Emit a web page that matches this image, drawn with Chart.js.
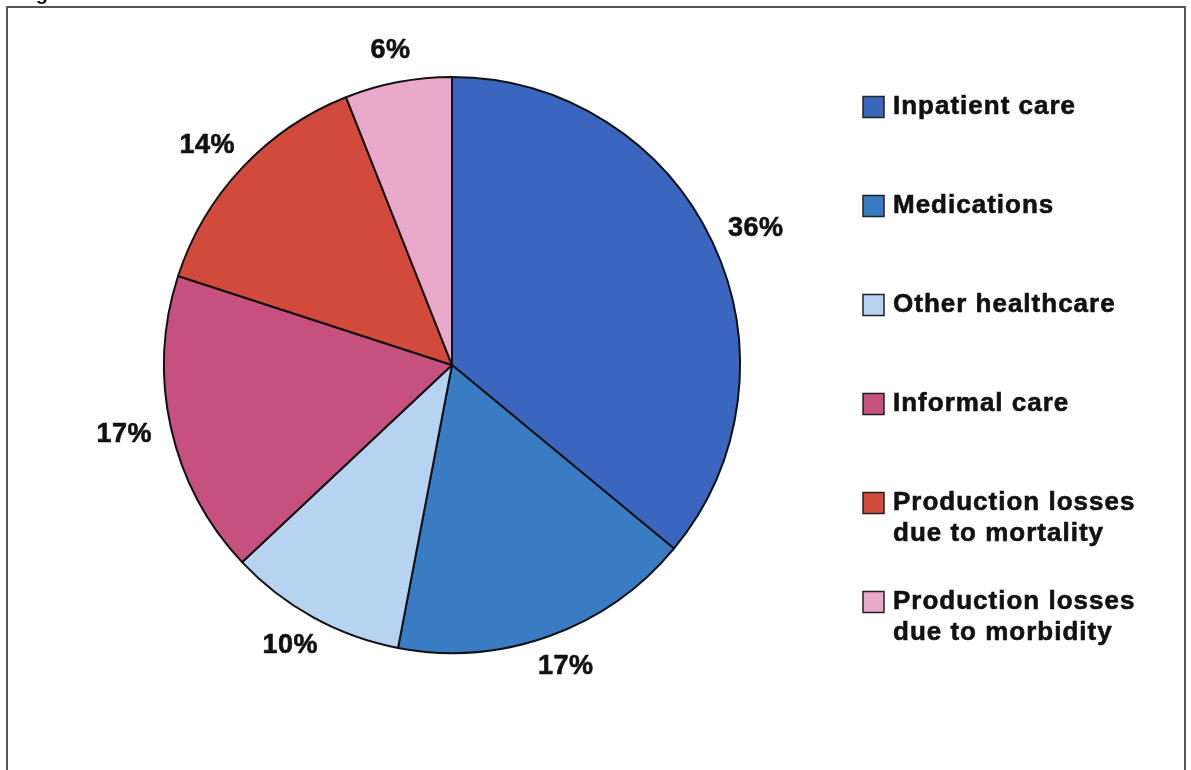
<!DOCTYPE html>
<html>
<head>
<meta charset="utf-8">
<script src="https://cdn.jsdelivr.net/npm/chart.js@4/dist/chart.umd.min.js"></script>
<style>
  html, body { margin: 0; padding: 0; background: #ffffff; }
  #wrap { width: 1191px; height: 770px; }
</style>
</head>
<body>
<div id="wrap"><canvas id="c" width="1191" height="770"></canvas></div>
<script>
// Cost categories, clockwise from 12 o'clock
const categories = [
  ['Inpatient care'],
  ['Medications'],
  ['Other healthcare'],
  ['Informal care'],
  ['Production losses', 'due to mortality'],
  ['Production losses', 'due to morbidity']
];
// Share of total cost (%)
const shares = [36, 17, 10, 17, 14, 6];
const sliceColors = ['#3A66C0', '#3A7CC4', '#B6D4F2', '#C6507E', '#D24A3C', '#EAA8CA'];

const FONT = '"Liberation Sans", Arial, sans-serif';

// Heavy text: fill plus a thin stroke of the same colour
function heavyText(ctx, txt, x, y) {
  ctx.fillText(txt, x, y);
  ctx.strokeText(txt, x, y);
}

// Outer frame plus the clipped caption line above it
const framePlugin = {
  id: 'frame',
  beforeDraw(chart) {
    const ctx = chart.ctx;
    ctx.save();
    ctx.fillStyle = '#ffffff';
    ctx.fillRect(0, 0, chart.width, chart.height);
    ctx.restore();
  },
  afterDraw(chart) {
    const ctx = chart.ctx;
    ctx.save();
    ctx.strokeStyle = '#555555';
    ctx.lineWidth = 2;
    ctx.beginPath();
    ctx.moveTo(7, chart.height);
    ctx.lineTo(7, 7);
    ctx.lineTo(1185, 7);
    ctx.lineTo(1185, chart.height);
    ctx.stroke();
    ctx.fillStyle = '#111111';
    ctx.font = 'bold 20px ' + FONT;
    ctx.textBaseline = 'alphabetic';
    ctx.fillText('Figure', 18, 0);
    ctx.restore();
  }
};

// Percentage labels just outside each slice; the label box is pushed
// out along the slice's mid angle so its inner edge clears the rim
const pctLabels = {
  id: 'pctLabels',
  afterDatasetsDraw(chart) {
    const ctx = chart.ctx;
    const meta = chart.getDatasetMeta(0);
    const gap = 20;
    ctx.save();
    ctx.fillStyle = '#111111';
    ctx.strokeStyle = '#111111';
    ctx.lineWidth = 0.6;
    ctx.font = 'bold 27px ' + FONT;
    ctx.letterSpacing = '0.5px';
    ctx.textAlign = 'center';
    ctx.textBaseline = 'middle';
    meta.data.forEach((arc, i) => {
      const p = arc.getProps(['x', 'y', 'startAngle', 'endAngle', 'outerRadius'], true);
      const mid = (p.startAngle + p.endAngle) / 2;
      const txt = shares[i] + '%';
      const hw = ctx.measureText(txt).width / 2;
      const hh = 12;
      const r = p.outerRadius + gap;
      const cx = p.x + Math.cos(mid) * r + Math.cos(mid) * hw;
      const cy = p.y + Math.sin(mid) * r + Math.sin(mid) * hh;
      heavyText(ctx, txt, cx, cy);
    });
    ctx.restore();
  }
};

// Legend on the right, one slot per category
const sideLegend = {
  id: 'sideLegend',
  afterDraw(chart) {
    const ctx = chart.ctx;
    const x0 = 863, box = 21, textX = 893, firstY = 107, slot = 99, lineH = 31;
    ctx.save();
    ctx.font = 'bold 26px ' + FONT;
    ctx.letterSpacing = '1px';
    ctx.textBaseline = 'middle';
    ctx.textAlign = 'left';
    categories.forEach((lines, i) => {
      const y = firstY + i * slot;
      ctx.fillStyle = sliceColors[i];
      ctx.fillRect(x0, y - box / 2, box, box);
      ctx.strokeStyle = '#222222';
      ctx.lineWidth = 1.5;
      ctx.strokeRect(x0, y - box / 2, box, box);
      ctx.fillStyle = '#111111';
      ctx.strokeStyle = '#111111';
      ctx.lineWidth = 0.6;
      lines.forEach((t, j) => heavyText(ctx, t, textX, y + j * lineH));
    });
    ctx.restore();
  }
};

new Chart(document.getElementById('c'), {
  type: 'pie',
  data: {
    labels: categories.map(l => l.join(' ')),
    datasets: [{
      data: shares,
      backgroundColor: sliceColors,
      borderColor: '#111111',
      borderWidth: 2
    }]
  },
  options: {
    responsive: false,
    animation: false,
    radius: 288,
    layout: { padding: { left: 152, right: 439, top: 65, bottom: 105 } },
    plugins: {
      legend: { display: false },
      tooltip: { enabled: false }
    }
  },
  plugins: [framePlugin, pctLabels, sideLegend]
});
</script>
</body>
</html>
